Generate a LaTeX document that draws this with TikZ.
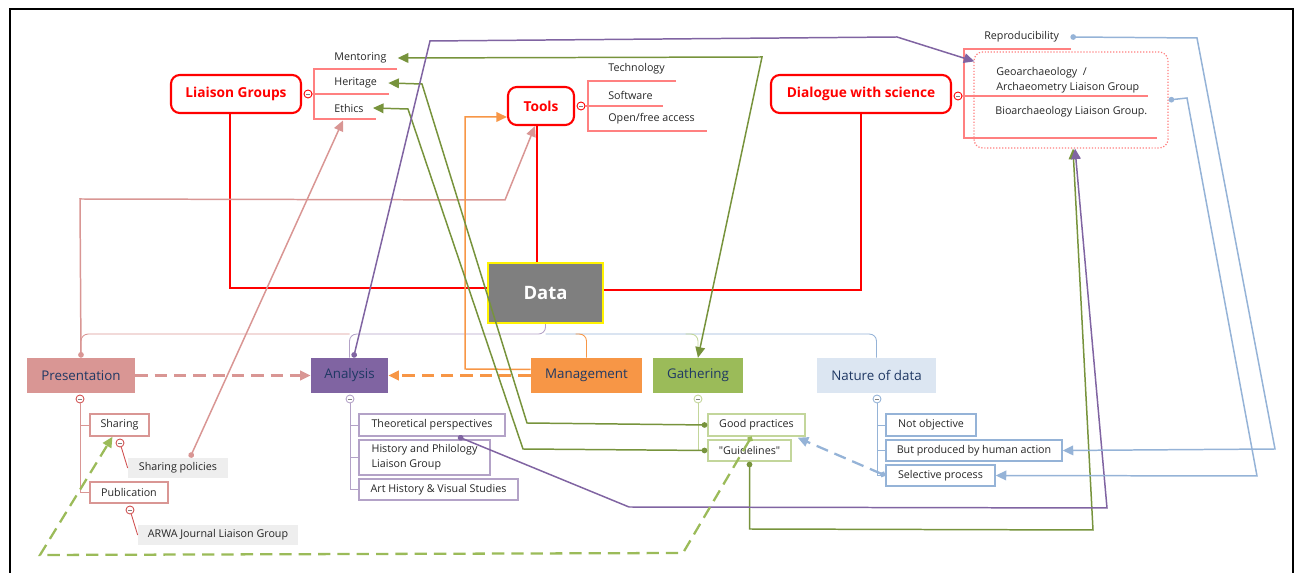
\documentclass[tikz,border=0pt]{standalone}
\usepackage{fontspec}
\setmainfont{Open Sans}[Ligatures=TeXOff]
\usetikzlibrary{arrows.meta,calc}

\definecolor{topicred}{HTML}{FF0000}
\definecolor{bracketred}{HTML}{FF8080}
\definecolor{prespink}{HTML}{D99694}
\definecolor{foldred}{HTML}{D05050}
\definecolor{analpurple}{HTML}{8064A2}
\definecolor{analline}{HTML}{B3A2C7}
\definecolor{mgmtorange}{HTML}{F79646}
\definecolor{gathgreen}{HTML}{9BBB59}
\definecolor{gathline}{HTML}{77933C}
\definecolor{gathlight}{HTML}{C3D69B}
\definecolor{natfill}{HTML}{DCE6F2}
\definecolor{natline}{HTML}{95B3D7}
\definecolor{navytext}{HTML}{1F3864}
\definecolor{notegrey}{HTML}{EEEEEE}
\definecolor{datagrey}{HTML}{7F7F7F}
\newcommand{\upx}{0.02cm}

\begin{document}
\begin{tikzpicture}[x=0.02cm, y=-0.02cm]

\tikzstyle{every node} = [inner sep=0pt, text=black!85, font=\fontsize{6.1}{8.5}\selectfont]
\tikzstyle{topic} = [draw=topicred, line width=1.2pt, rounded corners=5pt, text=topicred, font=\fontsize{7.8}{9}\selectfont\bfseries, minimum height=38*\upx]
\tikzstyle{branch} = [minimum height=35*\upx, text=navytext, font=\fontsize{7.6}{9}\selectfont]
\tikzstyle{leaf} = [draw, line width=0.8pt, minimum height=21*\upx]
\tikzstyle{note} = [fill=notegrey, minimum height=20*\upx]
\tikzstyle{itemtext} = [anchor=west]
\tikzstyle{fold} = [circle, draw, fill=white, line width=0.5pt, minimum size=8*\upx, path picture={\draw[gray, line width=0.3pt] ([xshift=-1.2pt]path picture bounding box.center) -- ([xshift=1.2pt]path picture bounding box.center);}]
\tikzstyle{bracket} = [draw=bracketred, line width=0.8pt]
\tikzstyle{redlink} = [draw=topicred, line width=1.1pt]
\tikzstyle{pinklink} = [draw=prespink, line width=0.85pt]
\tikzstyle{purplelink} = [draw=analpurple, line width=0.85pt]
\tikzstyle{orangelink} = [draw=mgmtorange, line width=0.85pt]
\tikzstyle{greenlink} = [draw=gathline, line width=0.85pt]
\tikzstyle{bluelink} = [draw=natline, line width=0.85pt]
\tikzstyle{thin} = [line width=0.5pt]
\tikzstyle{longdash} = [line width=1.3pt, dash pattern=on 7pt off 4pt]
\tikzstyle{tip} = [-{Triangle[length=6pt,width=5.5pt]}]
\tikzstyle{dottip} = [{Circle[length=3.2pt]}-{Triangle[length=6pt,width=5.5pt]}]
\tikzstyle{bothtip} = [{Triangle[length=6pt,width=5.5pt]}-{Triangle[length=6pt,width=5.5pt]}]

\useasboundingbox (0,0) rectangle (1299,573);
\draw[line width=1.3pt] (10,573) -- (10,9) -- (1293,9) -- (1293,573);

\node[topic, minimum width=130*\upx] (lg) at (236,94) {Liaison Groups};
\node[topic, minimum width=66*\upx] (tools) at (541,106) {Tools};
\node[topic, minimum width=180*\upx] (dws) at (861,94) {Dialogue with science};

\node[fill=datagrey, draw=yellow, line width=1.2pt, minimum width=115*\upx, minimum height=60*\upx, text=white, font=\fontsize{10.5}{12}\selectfont\bfseries] (data) at (545.5,293) {Data};

\node[branch, fill=prespink, minimum width=108*\upx] (pres) at (81,375.5) {Presentation};
\node[branch, fill=analpurple, minimum width=77*\upx] (anal) at (349.5,375.5) {Analysis};
\node[branch, fill=mgmtorange, minimum width=111*\upx] (mgmt) at (586.5,375.5) {Management};
\node[branch, fill=gathgreen, minimum width=90*\upx] (gath) at (698,375.5) {Gathering};
\node[branch, fill=natfill, minimum width=119*\upx] (nat) at (876.5,375.5) {Nature of data};

\node[itemtext] (ment) at (334,58) {Mentoring};
\node[itemtext] (her) at (334,83) {Heritage};
\node[itemtext] (eth) at (334,108) {Ethics};
\node[itemtext] (tech) at (608,69) {Technology};
\node[itemtext] (soft) at (608,95) {Software};
\node[itemtext] (open) at (608,119) {Open/free access};
\node[itemtext] (repro) at (984,37) {Reproducibility};
\node[itemtext, align=left] (geo) at (996,80) {Geoarchaeology~~/\\Archaeometry Liaison Group};
\node[itemtext] (bio) at (995,112) {Bioarchaeology Liaison Group.};
\node[draw=bracketred, densely dotted, line width=0.7pt, rounded corners=5pt, minimum width=194*\upx, minimum height=96*\upx] (sci) at (1071,100) {};

\node[leaf, draw=prespink, minimum width=59*\upx, minimum height=22*\upx] (shar) at (119.5,425) {Sharing};
\node[note, minimum width=100*\upx] (shpol) at (178,468) {Sharing policies};
\node[leaf, draw=prespink, minimum width=78*\upx] (publ) at (129,492.5) {Publication};
\node[note, minimum width=160*\upx] (arwa) at (218,535) {ARWA Journal Liaison Group};

\node[leaf, draw=analline, minimum width=146*\upx, minimum height=22*\upx] (theo) at (432,425) {Theoretical perspectives};
\node[leaf, draw=analline, minimum width=131*\upx, minimum height=35*\upx, align=left] (hist) at (424.5,457.5) {History and Philology\\Liaison Group};
\node[leaf, draw=analline, minimum width=159*\upx] (art) at (438.5,489.5) {Art History \& Visual Studies};

\node[leaf, draw=gathlight, minimum width=97*\upx, minimum height=22*\upx] (good) at (756.5,425) {Good practices};
\node[leaf, draw=gathlight, minimum width=83*\upx] (guid) at (749.5,450.5) {"Guidelines"};

\node[leaf, draw=natline, minimum width=90*\upx, minimum height=22*\upx] (notobj) at (931,425) {Not objective};
\node[leaf, draw=natline, minimum width=176*\upx] (human) at (974,450.5) {But produced by human action};
\node[leaf, draw=natline, minimum width=109*\upx] (selec) at (940.5,475.5) {Selective process};

\node[fold, draw=topicred] (lgc) at (308,94) {};
\node[fold, draw=topicred] (toolsc) at (581,106) {};
\node[fold, draw=topicred] (dwsc) at (958,96) {};
\node[fold, draw=foldred] (presc) at (80,399) {};
\node[fold, draw=analline] (analc) at (350,399) {};
\node[fold, draw=gathlight] (gathc) at (698,399) {};
\node[fold, draw=natline] (natc) at (877,399) {};
\node[fold, draw=foldred] (sharc) at (120,443) {};
\node[fold, draw=foldred] (publc) at (130,510) {};

\draw[bracket] (397,69) -- (314,69) -- (314,119) -- (376,119);
\draw[bracket] (lgc) -- (389,94);
\draw[bracket] (676,81) -- (588,81) -- (588,131) -- (707,131);
\draw[bracket] (toolsc) -- (663,106);
\draw[bracket] (1071,49) -- (964,49) -- (964,138) -- (1157,138);
\draw[bracket] (dwsc) -- (1148,96);

\draw[pinklink, thin] (presc) |- (shar.west);
\draw[pinklink, thin] (presc) |- (publ.west);
\draw[draw=foldred, thin] (sharc) -- (shpol.west);
\draw[draw=foldred, thin] (publc) -- (arwa.west);
\draw[draw=analline, thin] (analc) |- (theo.west);
\draw[draw=analline, thin] (analc) |- (hist.west);
\draw[draw=analline, thin] (analc) |- (art.west);
\draw[draw=gathlight, thin] (gathc) |- (guid.west);
\draw[bluelink, thin] (natc) |- (notobj.west);
\draw[bluelink, thin] (natc) |- (human.west);
\draw[bluelink, thin] (natc) |- (selec.west);

\draw[redlink] ($(lg.south)+(-6,0)$) |- ($(data.west)+(0,-5)$);
\draw[redlink] ($(tools.south)+(-4,0)$) -- ($(tools.south |- data.north)+(-4,0)$);
\draw[redlink] (dws.south) |- ($(data.east)+(0,-3)$);

\coordinate (hub) at ($(data.south)+(0,10)$);
\draw[pinklink, thin, rounded corners] (anal.north |- hub) -| (pres.north);
\draw[draw=analline, thin, rounded corners] (data.south) -- (hub) -| (anal.north);
\draw[bluelink, thin, rounded corners] (hub) -| (nat.north);
\draw[orangelink, thin, rounded corners] ($(hub)+(30,0)$) -| (mgmt.north);
\draw[draw=gathlight, thin, rounded corners] ($(hub)+(140,0)$) -| (gath.north);

\draw[pinklink, dottip] (pres.north) -- (80,199) -- (505,200) -- ($(tools.south)+(-6,0)$);
\draw[pinklink, longdash, tip] (pres) -- (anal);
\draw[orangelink, longdash, tip] (mgmt) -- (anal);
\draw[orangelink, tip] ($(mgmt.west)+(0,-6)$) -- (465,369) -- (465,117) -- ($(tools.west)+(0,11)$);
\draw[pinklink, dottip] ($(shpol.north)+(12,0)$) -- ($(eth.south west)+(9,8)$);

\draw[greenlink, bothtip] ($(ment.east)+(11,0)$) -- (762,57) -- (gath.north);
\draw[greenlink, dottip] (good.west) -- (527,423) -- (422,84) -- ($(her.east)+(11,0)$);
\draw[greenlink, dottip] (guid.west) -- (523,449) -- (408,109) -- ($(eth.east)+(9,0)$);
\draw[greenlink, dottip] (guid.south) -- (749.5,529) -- (1093,530) -- ($(sci.south)+(2,0)$);

\draw[purplelink, dottip] ($(anal.north)+(4,0)$) -- (430,41) -- (897,37) -- ($(sci.north west)+(1,10)$);
\draw[purplelink, dottip] ($(theo.south)+(26,0)$) -- (629,507) -- (1107,508) -- ($(sci.south)+(4,0)$);

\draw[draw=gathgreen, longdash, dottip] ($(good.south)+(-5,0)$) -- (683,553) -- (40,555) -- ($(shar.south)+(-7,0)$);
\draw[bluelink, longdash, dottip] (selec.west) -- ($(good.south east)+(-8,1)$);
\draw[bluelink, dottip] ($(repro.east)+(11,0)$) -- (1197,38) -- (1275,449) -- (human.east);
\draw[bluelink, dottip] (sci.east) -- (1187,98) -- (1257,476) -- (selec.east);

\end{tikzpicture}
\end{document}
